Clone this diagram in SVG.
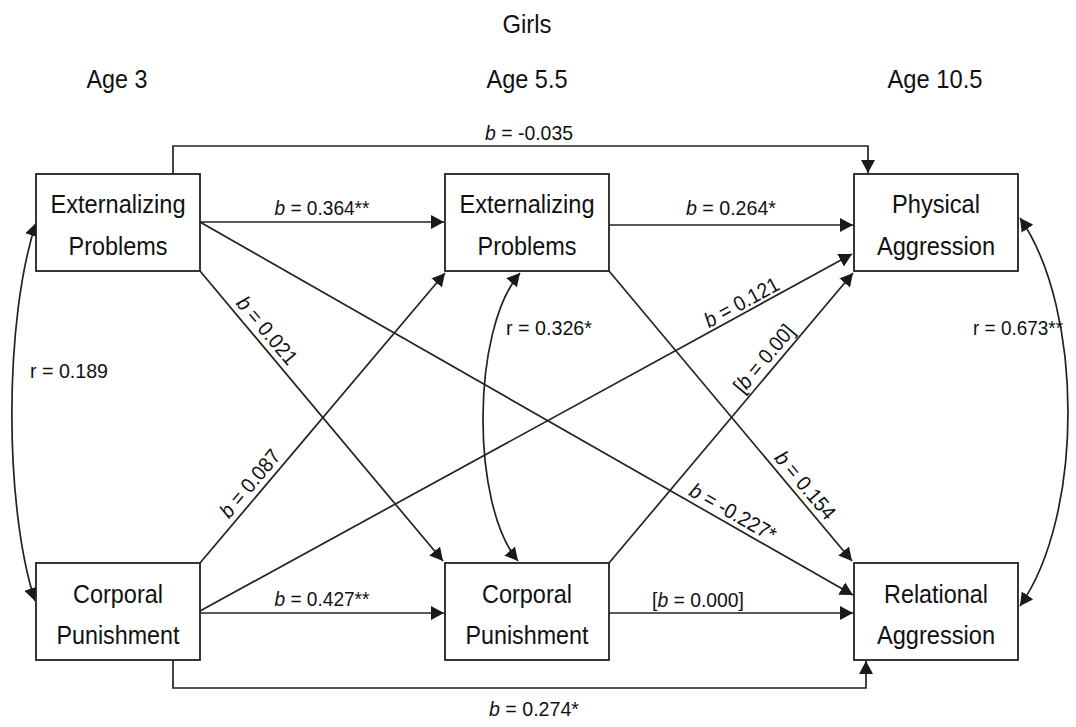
<svg xmlns="http://www.w3.org/2000/svg" width="1076" height="727" viewBox="0 0 1076 727">
<style>
.box{fill:#fff;stroke:#222;stroke-width:1.8}
.nt{font-family:"Liberation Sans",Arial,sans-serif;font-size:25.5px;fill:#111;text-anchor:middle}
.hd{font-family:"Liberation Sans",Arial,sans-serif;font-size:25.5px;fill:#111;text-anchor:middle}
.lb{font-family:"Liberation Sans",Arial,sans-serif;font-size:21px;fill:#111;text-anchor:middle}
.lbs{font-family:"Liberation Sans",Arial,sans-serif;font-size:21px;fill:#111}
.ln{fill:none;stroke:#222;stroke-width:1.7}
.it{font-style:italic}
</style>
<defs>
<marker id="ah" markerUnits="userSpaceOnUse" markerWidth="14" markerHeight="15" refX="13" refY="7.5" orient="auto-start-reverse" viewBox="0 0 14 15">
<path d="M0,0.5 L13,7.5 L0,14.5 z" fill="#1a1a1a"/>
</marker>
</defs>
<rect width="1076" height="727" fill="#fff"/>
<g id="headers">
<text class="hd" x="527" y="33" textLength="49" lengthAdjust="spacingAndGlyphs">Girls</text>
<text class="hd" x="117" y="88" textLength="61" lengthAdjust="spacingAndGlyphs">Age 3</text>
<text class="hd" x="527" y="88" textLength="81" lengthAdjust="spacingAndGlyphs">Age 5.5</text>
<text class="hd" x="935" y="88" textLength="95" lengthAdjust="spacingAndGlyphs">Age 10.5</text>
</g>
<g id="connectors">
<path class="ln" d="M173,174 V146 H868 V173" marker-end="url(#ah)"/>
<path class="ln" d="M173,660 V688 H866 V661" marker-end="url(#ah)"/>
<path class="ln" d="M200,222 H444" marker-end="url(#ah)"/>
<path class="ln" d="M609,225 H853" marker-end="url(#ah)"/>
<path class="ln" d="M200,613 H444" marker-end="url(#ah)"/>
<path class="ln" d="M609,613 H853" marker-end="url(#ah)"/>
<path class="ln" d="M200,271 L443,561" marker-end="url(#ah)"/>
<path class="ln" d="M200,222 L853,595" marker-end="url(#ah)"/>
<path class="ln" d="M200,563 L445,273" marker-end="url(#ah)"/>
<path class="ln" d="M200,611 L852,254" marker-end="url(#ah)"/>
<path class="ln" d="M609,563 L853,273" marker-end="url(#ah)"/>
<path class="ln" d="M609,271 L852,561" marker-end="url(#ah)"/>
<path class="ln" d="M36,223 C4,320 4,505 35,601" marker-start="url(#ah)" marker-end="url(#ah)"/>
<path class="ln" d="M520,273 C471,330 471,505 518,561" marker-start="url(#ah)" marker-end="url(#ah)"/>
<path class="ln" d="M1020,218 C1084,310 1084,515 1020,606" marker-start="url(#ah)" marker-end="url(#ah)"/>
</g>
<g id="labels">
<text class="lb" x="529" y="140" textLength="88" lengthAdjust="spacingAndGlyphs"><tspan class="it">b</tspan> = -0.035</text>
<text class="lb" x="534" y="716" textLength="90" lengthAdjust="spacingAndGlyphs"><tspan class="it">b</tspan> = 0.274*</text>
<text class="lb" x="322" y="215" textLength="95" lengthAdjust="spacingAndGlyphs"><tspan class="it">b</tspan> = 0.364**</text>
<text class="lb" x="731" y="215" textLength="90" lengthAdjust="spacingAndGlyphs"><tspan class="it">b</tspan> = 0.264*</text>
<text class="lb" x="322" y="606" textLength="95" lengthAdjust="spacingAndGlyphs"><tspan class="it">b</tspan> = 0.427**</text>
<text class="lb" x="698" y="607" textLength="92" lengthAdjust="spacingAndGlyphs">[<tspan class="it">b</tspan> = 0.000]</text>
<text class="lbs" x="30" y="378" textLength="78" lengthAdjust="spacingAndGlyphs">r = 0.189</text>
<text class="lbs" x="506" y="335" textLength="86" lengthAdjust="spacingAndGlyphs">r = 0.326*</text>
<text class="lbs" x="973" y="335" textLength="90" lengthAdjust="spacingAndGlyphs">r = 0.673**</text>
<text class="lb" transform="translate(257,339) rotate(50)" x="0" y="-6" textLength="82" lengthAdjust="spacingAndGlyphs"><tspan class="it">b</tspan> = 0.021</text>
<text class="lb" transform="translate(260,492) rotate(-49.8)" x="0" y="-6" textLength="82" lengthAdjust="spacingAndGlyphs"><tspan class="it">b</tspan> = 0.087</text>
<text class="lb" transform="translate(747,312) rotate(-28.7)" x="0" y="-4" textLength="82" lengthAdjust="spacingAndGlyphs"><tspan class="it">b</tspan> = 0.121</text>
<text class="lb" transform="translate(774,367) rotate(-50)" x="0" y="-6" textLength="82" lengthAdjust="spacingAndGlyphs">[<tspan class="it">b</tspan> = 0.00]</text>
<text class="lb" transform="translate(796,493) rotate(50)" x="0" y="-5" textLength="82" lengthAdjust="spacingAndGlyphs"><tspan class="it">b</tspan> = 0.154</text>
<text class="lb" transform="translate(727,523) rotate(29.7)" x="0" y="-5" textLength="96" lengthAdjust="spacingAndGlyphs"><tspan class="it">b</tspan> = -0.227*</text>
</g>
<g id="ext3"><rect class="box" x="36" y="174" width="164" height="97"/><text class="nt" x="118" y="213" textLength="135" lengthAdjust="spacingAndGlyphs">Externalizing</text><text class="nt" x="118" y="255" textLength="99" lengthAdjust="spacingAndGlyphs">Problems</text></g>
<g id="ext55"><rect class="box" x="445" y="174" width="164" height="97"/><text class="nt" x="527" y="213" textLength="135" lengthAdjust="spacingAndGlyphs">Externalizing</text><text class="nt" x="527" y="255" textLength="99" lengthAdjust="spacingAndGlyphs">Problems</text></g>
<g id="phys"><rect class="box" x="854" y="174" width="164" height="97"/><text class="nt" x="936" y="213" textLength="88" lengthAdjust="spacingAndGlyphs">Physical</text><text class="nt" x="936" y="255" textLength="118" lengthAdjust="spacingAndGlyphs">Aggression</text></g>
<g id="corp3"><rect class="box" x="36" y="563" width="164" height="97"/><text class="nt" x="118" y="603" textLength="90" lengthAdjust="spacingAndGlyphs">Corporal</text><text class="nt" x="118" y="644" textLength="123" lengthAdjust="spacingAndGlyphs">Punishment</text></g>
<g id="corp55"><rect class="box" x="445" y="563" width="164" height="97"/><text class="nt" x="527" y="603" textLength="90" lengthAdjust="spacingAndGlyphs">Corporal</text><text class="nt" x="527" y="644" textLength="123" lengthAdjust="spacingAndGlyphs">Punishment</text></g>
<g id="rel"><rect class="box" x="854" y="563" width="164" height="97"/><text class="nt" x="936" y="603" textLength="104" lengthAdjust="spacingAndGlyphs">Relational</text><text class="nt" x="936" y="644" textLength="118" lengthAdjust="spacingAndGlyphs">Aggression</text></g>
</svg>
